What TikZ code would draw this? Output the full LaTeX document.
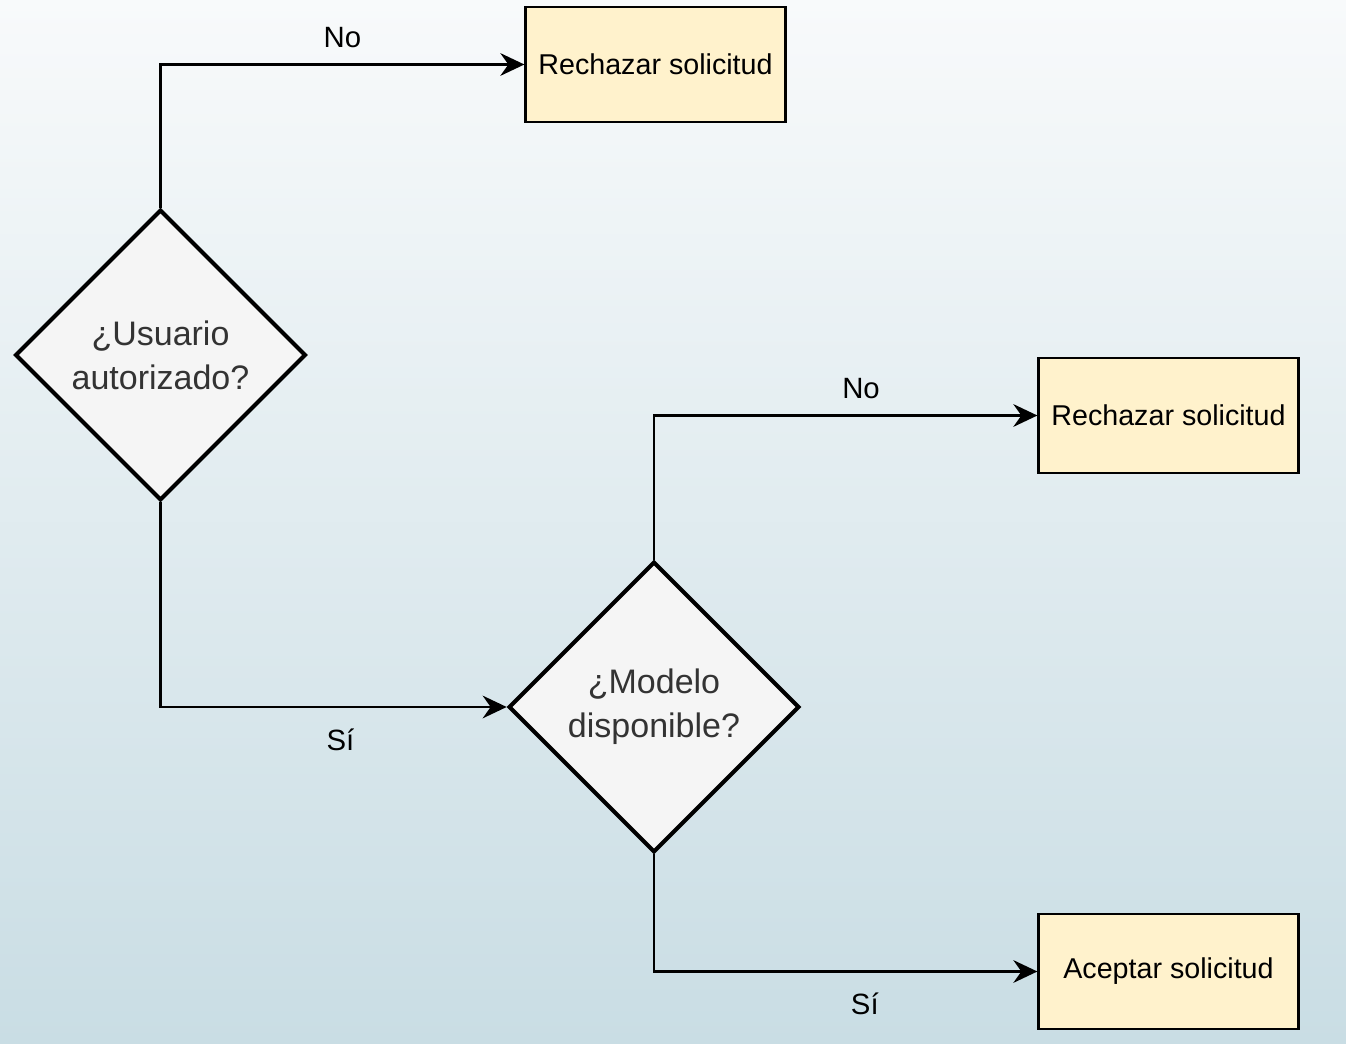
\documentclass[tikz,border=0pt]{standalone}
\usepackage{fontspec}
\setmainfont{Liberation Sans}
\usetikzlibrary{shapes.geometric, arrows.meta}
\definecolor{bgtop}{HTML}{F8FAFB}
\definecolor{bgbottom}{HTML}{C9DDE4}
\definecolor{boxfill}{HTML}{FFF2CC}
\definecolor{decisionfill}{HTML}{F5F5F5}
\definecolor{decisiontext}{HTML}{333333}

\begin{document}
\begin{tikzpicture}[x=0.75pt, y=-0.75pt,
    action/.style={rectangle, draw=black, line width=1.7pt, fill=boxfill,
        minimum width=195pt, minimum height=86pt, inner sep=0pt,
        font=\fontsize{21.5}{26}\selectfont},
    decision/.style={diamond, draw=black, line width=3pt, fill=decisionfill,
        text=decisiontext, align=center, minimum width=218pt, minimum height=218pt,
        inner sep=0pt, font=\fontsize{25.5}{33}\selectfont},
    flow/.style={line width=2pt, -{Stealth[length=18pt, width=17pt, inset=6pt]}},
    answer/.style={font=\fontsize{22}{26}\selectfont}]
    \useasboundingbox (0,0) rectangle (1346,1044);
    \shade[top color=bgtop, bottom color=bgbottom] (0,0) rectangle (1346,1044);

    \node[decision] (usuario) at (160.5,355) {¿Usuario\\autorizado?};
    \node[decision] (modelo) at (654,707) {¿Modelo\\disponible?};
    \node[action] (rechazo1) at (655.5,64.5) {Rechazar solicitud};
    \node[action] (rechazo2) at (1168.5,415.5) {Rechazar solicitud};
    \node[action] (acepta) at (1168.5,971.5) {Aceptar solicitud};

    \draw[flow] (usuario.north) |- node[answer, pos=0.75, above=8pt] {No} (rechazo1.west);
    \draw[flow] (usuario.south) |- node[answer, pos=0.76, below=12pt] {Sí} (modelo.west);
    \draw[flow] (modelo.north) |- node[answer, pos=0.77, above=8pt] {No} (rechazo2.west);
    \draw[flow] (modelo.south) |- node[answer, pos=0.775, below=12pt] {Sí} (acepta.west);
\end{tikzpicture}
\end{document}
